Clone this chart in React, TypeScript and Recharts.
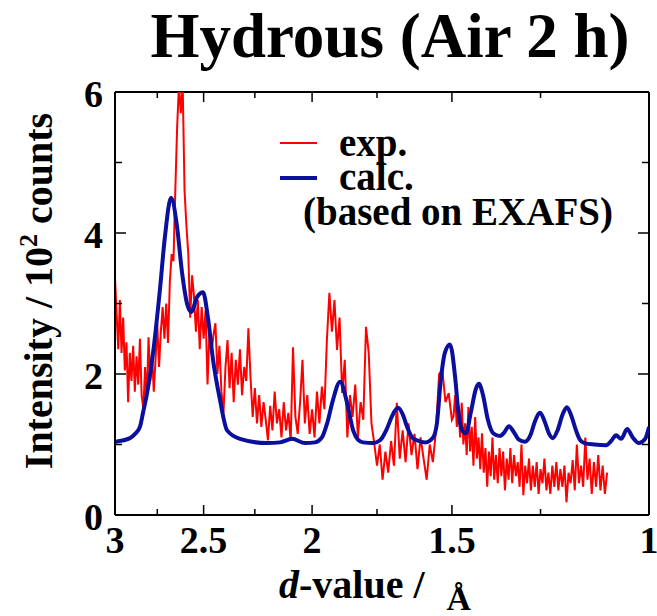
import React from 'react';
import { LineChart, Line, XAxis, YAxis, ReferenceLine } from 'recharts';

const FONT = "'Liberation Serif', 'Times New Roman', Times, serif";
const W = 657;
const H = 616;
const LEFT = 115;
const TOP = 92;
const RIGHT = 649;
const BOTTOM = 515;
const YAXIS_W = 60;
const XAXIS_H = 40;

const xTicks = [3, 2.75, 2.5, 2.25, 2, 1.75, 1.5, 1.25, 1];
const xTickLabels: Record<string, string> = { '3': '3', '2.5': '2.5', '2': '2', '1.5': '1.5', '1': '1' };
const yTicks = [0, 1, 2, 3, 4, 5, 6];
const yTickLabels: Record<string, string> = { '0': '0', '2': '2', '4': '4', '6': '6' };

// experimental pattern: d-value grid (Å)
const expD = [
  3.00, 2.99, 2.98, 2.97, 2.96, 2.95, 2.94, 2.93, 2.92, 2.91,
  2.90, 2.89, 2.88, 2.87, 2.86, 2.85, 2.84, 2.83, 2.82, 2.81,
  2.80, 2.79, 2.78, 2.77, 2.76, 2.75, 2.74, 2.73, 2.72, 2.71,
  2.70, 2.69, 2.68, 2.67, 2.66, 2.65, 2.64, 2.63, 2.62, 2.61,
  2.60, 2.59, 2.58, 2.57, 2.56, 2.55, 2.54, 2.53, 2.52, 2.51,
  2.50, 2.49, 2.48, 2.47, 2.46, 2.45, 2.44, 2.43, 2.42, 2.41,
  2.40, 2.39, 2.38, 2.37, 2.36, 2.35, 2.34, 2.33, 2.32, 2.31,
  2.30, 2.29, 2.28, 2.27, 2.26, 2.25, 2.24, 2.23, 2.22, 2.21,
  2.20, 2.19, 2.18, 2.17, 2.16, 2.15, 2.14, 2.13, 2.12, 2.11,
  2.10, 2.09, 2.08, 2.07, 2.06, 2.05, 2.04, 2.03, 2.02, 2.01,
  2.00,
  1.99, 1.98, 1.97, 1.96, 1.95, 1.94, 1.93, 1.92, 1.91, 1.90,
  1.89, 1.88, 1.87, 1.86, 1.85, 1.84, 1.83, 1.82, 1.81, 1.80,
  1.79, 1.78, 1.77, 1.76, 1.75, 1.74, 1.73, 1.72, 1.71, 1.70,
  1.69, 1.68, 1.67, 1.66, 1.65, 1.64, 1.63, 1.62, 1.61, 1.60,
  1.59, 1.58, 1.57, 1.56, 1.55, 1.54, 1.53, 1.52, 1.51, 1.50,
  1.495, 1.490, 1.485, 1.480, 1.475, 1.470, 1.465, 1.460, 1.455, 1.450,
  1.445, 1.440, 1.435, 1.430, 1.425, 1.420, 1.415, 1.410, 1.405, 1.400,
  1.395, 1.390, 1.385, 1.380, 1.375, 1.370, 1.365, 1.360, 1.355, 1.350,
  1.345, 1.340, 1.335, 1.330, 1.325, 1.320, 1.315, 1.310, 1.305, 1.300,
  1.295, 1.290, 1.285, 1.280, 1.275, 1.270, 1.265, 1.260, 1.255, 1.250,
  1.245, 1.240, 1.235, 1.230, 1.225, 1.220, 1.215, 1.210, 1.205, 1.200,
  1.195, 1.190, 1.185, 1.180, 1.175, 1.170, 1.165, 1.160, 1.155, 1.150,
  1.145, 1.140, 1.135, 1.130, 1.125, 1.120, 1.115, 1.110, 1.105, 1.100,
  1.095, 1.090,
];

// experimental intensity (10^2 counts)
const expI = [
  3.36, 2.85, 2.35, 3.05, 2.3, 2.8, 2.05, 2.45, 1.6, 2.3,
  1.9, 2.4, 1.75, 2.25, 1.85, 2.5, 1.7, 1.5, 2.1, 1.65,
  2.52, 1.9, 2.3, 1.75, 2.2, 2.7, 2.1, 2.6, 2.95, 2.5,
  3.0, 2.44, 3.3, 3.7, 3.6, 4.6, 5.5, 6.1, 5.7, 6.1,
  4.6, 4.1, 3.7, 2.8, 3.4, 3.1, 2.6, 3.05, 2.35, 2.95,
  2.5, 2.9, 1.85, 2.6, 2.3, 2.55, 2.72, 2.0, 2.4, 1.75,
  1.45, 2.1, 2.48, 1.8, 2.3, 1.6, 2.2, 1.85, 2.35, 1.7,
  2.1, 1.9, 2.65, 1.95, 1.39, 1.8, 1.3, 1.7, 1.25, 1.6,
  1.35, 1.06, 1.55, 1.2, 1.75, 1.3, 1.5, 1.1, 1.6, 1.2,
  1.45, 1.05, 2.38, 1.4, 1.15, 1.6, 2.2, 1.3, 1.7, 1.15,
  1.5,
  1.1, 1.75, 1.3, 1.82, 1.5, 2.48, 3.15, 2.6, 3.05, 2.34,
  2.8, 1.73, 2.2, 1.1, 1.7, 1.39, 1.85, 1.1, 1.6, 1.35,
  2.67, 2.3, 1.3, 1.02, 0.7, 1.0, 0.5, 0.9, 0.6, 1.05,
  0.7, 1.59, 0.8, 1.2, 0.75, 1.3, 0.85, 1.15, 0.65, 1.1,
  0.8, 0.5, 1.0, 0.75, 1.2, 2.0, 2.06, 1.6, 1.73, 1.35,
  1.4, 1.7, 1.25, 1.55, 1.1, 1.59, 1.0, 1.3, 0.85, 1.53,
  0.9, 1.25, 0.7, 1.39, 0.8, 1.1, 0.65, 1.16, 0.6, 0.95,
  0.4, 0.9, 0.55, 1.1, 0.5, 0.85, 0.45, 0.95, 0.55, 0.9,
  0.35, 0.8, 0.5, 0.95, 0.45, 0.85, 0.55, 0.75, 0.4, 1.0,
  0.28, 0.7, 0.45, 0.8, 0.35, 0.7, 0.4, 0.75, 0.3, 0.65,
  0.45, 0.8, 0.35, 0.6, 0.3, 0.7, 0.4, 0.75, 0.35, 0.65,
  0.4, 0.7, 0.18, 0.6, 0.45, 0.78, 0.35, 1.0, 0.45, 0.7,
  0.4, 1.1, 0.5, 0.8, 0.3, 0.75, 0.4, 0.85, 0.35, 0.7,
  0.3, 0.6,
];

// calculated pattern (based on EXAFS)
const calcD = [
  3.000, 2.909, 2.879, 2.850, 2.832, 2.809, 2.774, 2.735, 2.707, 2.673,
  2.641, 2.614, 2.587, 2.565, 2.534, 2.503, 2.478, 2.452, 2.417, 2.382,
  2.320, 2.194, 2.136, 2.084, 2.029, 1.988, 1.960, 1.939, 1.916, 1.888,
  1.861, 1.838, 1.820, 1.801, 1.764, 1.739, 1.714, 1.697, 1.676, 1.659,
  1.645, 1.628, 1.612, 1.585, 1.559, 1.547, 1.535, 1.522, 1.506, 1.490,
  1.481, 1.466, 1.457, 1.443, 1.427, 1.419, 1.407, 1.393, 1.378, 1.359,
  1.347, 1.334, 1.320, 1.307, 1.291, 1.275, 1.265, 1.251, 1.239, 1.228,
  1.219, 1.207, 1.195, 1.184, 1.174, 1.162, 1.153, 1.142, 1.119, 1.092,
  1.081, 1.070, 1.059, 1.046, 1.034, 1.021, 1.008, 1.000,
];
const calcI = [
  1.04, 1.09, 1.15, 1.25, 1.45, 1.72, 2.3, 3.2, 3.95, 4.5,
  4.1, 3.45, 3.0, 2.88, 3.09, 3.16, 2.8, 2.2, 1.63, 1.2,
  1.08, 1.02, 1.03, 1.08, 1.02, 1.03, 1.1, 1.3, 1.63, 1.89,
  1.59, 1.2, 1.07, 1.03, 1.02, 1.06, 1.23, 1.4, 1.52, 1.42,
  1.25, 1.1, 1.06, 1.03, 1.1, 1.3, 1.9, 2.3, 2.42, 1.95,
  1.5, 1.18, 1.16, 1.45, 1.8, 1.86, 1.7, 1.35, 1.16, 1.12,
  1.17, 1.26, 1.17, 1.07, 1.04, 1.15, 1.32, 1.45, 1.32, 1.15,
  1.09, 1.2, 1.42, 1.53, 1.42, 1.2, 1.07, 1.02, 1.0, 0.99,
  1.05, 1.13, 1.08, 1.22, 1.1, 1.02, 1.08, 1.25,
];

const expData = expD.map((d, i) => ({ d, v: expI[i] }));
const calcData = calcD.map((d, i) => ({ d, v: calcI[i] }));

const XTick = (props: any) => {
  const { x, payload } = props;
  const label = xTickLabels[String(payload.value)];
  const len = label !== undefined ? 10 : 6;
  return (
    <g>
      <line x1={x} x2={x} y1={BOTTOM} y2={BOTTOM - len} stroke="#000" strokeWidth={1.5} />
      <line x1={x} x2={x} y1={TOP} y2={TOP + len} stroke="#000" strokeWidth={1.5} />
      {label !== undefined && (
        <text x={x} y={553} textAnchor="middle" fontFamily={FONT} fontWeight="bold" fontSize={38} fill="#000">
          {label}
        </text>
      )}
    </g>
  );
};

const YTick = (props: any) => {
  const { y, payload } = props;
  const label = yTickLabels[String(payload.value)];
  const len = label !== undefined ? 11 : 7;
  return (
    <g>
      <line x1={LEFT} x2={LEFT + len} y1={y} y2={y} stroke="#000" strokeWidth={1.5} />
      <line x1={RIGHT} x2={RIGHT - len} y1={y} y2={y} stroke="#000" strokeWidth={1.5} />
      {label !== undefined && (
        <text x={103} y={y + 15} textAnchor="end" fontFamily={FONT} fontWeight="bold" fontSize={38} fill="#000">
          {label}
        </text>
      )}
    </g>
  );
};

export default function App() {
  return (
    <div style={{ position: 'absolute', left: 0, top: 0, width: W, height: H, background: '#fff' }}>
      <LineChart
        width={W}
        height={H}
        margin={{ top: TOP, right: W - RIGHT, bottom: H - BOTTOM - XAXIS_H, left: LEFT - YAXIS_W }}
      >
        <XAxis
          type="number"
          dataKey="d"
          scale="log"
          domain={[1, 3]}
          reversed
          allowDataOverflow
          ticks={xTicks}
          interval={0}
          tick={<XTick />}
          tickLine={false}
          tickSize={0}
          tickMargin={0}
          height={XAXIS_H}
          axisLine={{ stroke: '#000', strokeWidth: 2 }}
        />
        <YAxis
          type="number"
          domain={[0, 6]}
          allowDataOverflow
          ticks={yTicks}
          interval={0}
          tick={<YTick />}
          tickLine={false}
          tickSize={0}
          tickMargin={0}
          width={YAXIS_W}
          axisLine={{ stroke: '#000', strokeWidth: 2 }}
        />
        <ReferenceLine y={6} stroke="#000" strokeWidth={2} />
        <ReferenceLine x={1} stroke="#000" strokeWidth={2} />
        <Line
          data={expData}
          dataKey="v"
          type="linear"
          stroke="#ff0000"
          strokeWidth={2}
          dot={false}
          isAnimationActive={false}
        />
        <Line
          data={calcData}
          dataKey="v"
          type="monotone"
          stroke="#0a0f9c"
          strokeWidth={4}
          dot={false}
          isAnimationActive={false}
        />
      </LineChart>
      <svg
        width={W}
        height={H}
        style={{ position: 'absolute', left: 0, top: 0, pointerEvents: 'none' }}
        fontFamily={FONT}
        fontWeight="bold"
      >
        <text x={390} y={57} textAnchor="middle" fontSize={63} fill="#000">
          Hydrous (Air 2 h)
        </text>
        <text transform="translate(52,291) rotate(-90)" textAnchor="middle" fontSize={40} fill="#000">
          Intensity / 10<tspan dy={-15} fontSize={26}>2</tspan>
          <tspan dy={15}> counts</tspan>
        </text>
        <text x={279} y={598} fontSize={40} fill="#000">
          <tspan fontStyle="italic">d</tspan>-value /
          <tspan dx={22} dy={12} fontSize={34}>Å</tspan>
        </text>
        <line x1={280} x2={317} y1={143} y2={143} stroke="#ff0000" strokeWidth={2} />
        <line x1={280} x2={317} y1={178} y2={178} stroke="#0a0f9c" strokeWidth={4} />
        <text x={339} y={156} fontSize={39} fill="#000">exp.</text>
        <text x={339} y={190} fontSize={39} fill="#000">calc.</text>
        <text x={303} y={225} fontSize={39} fill="#000">(based on EXAFS)</text>
      </svg>
    </div>
  );
}
